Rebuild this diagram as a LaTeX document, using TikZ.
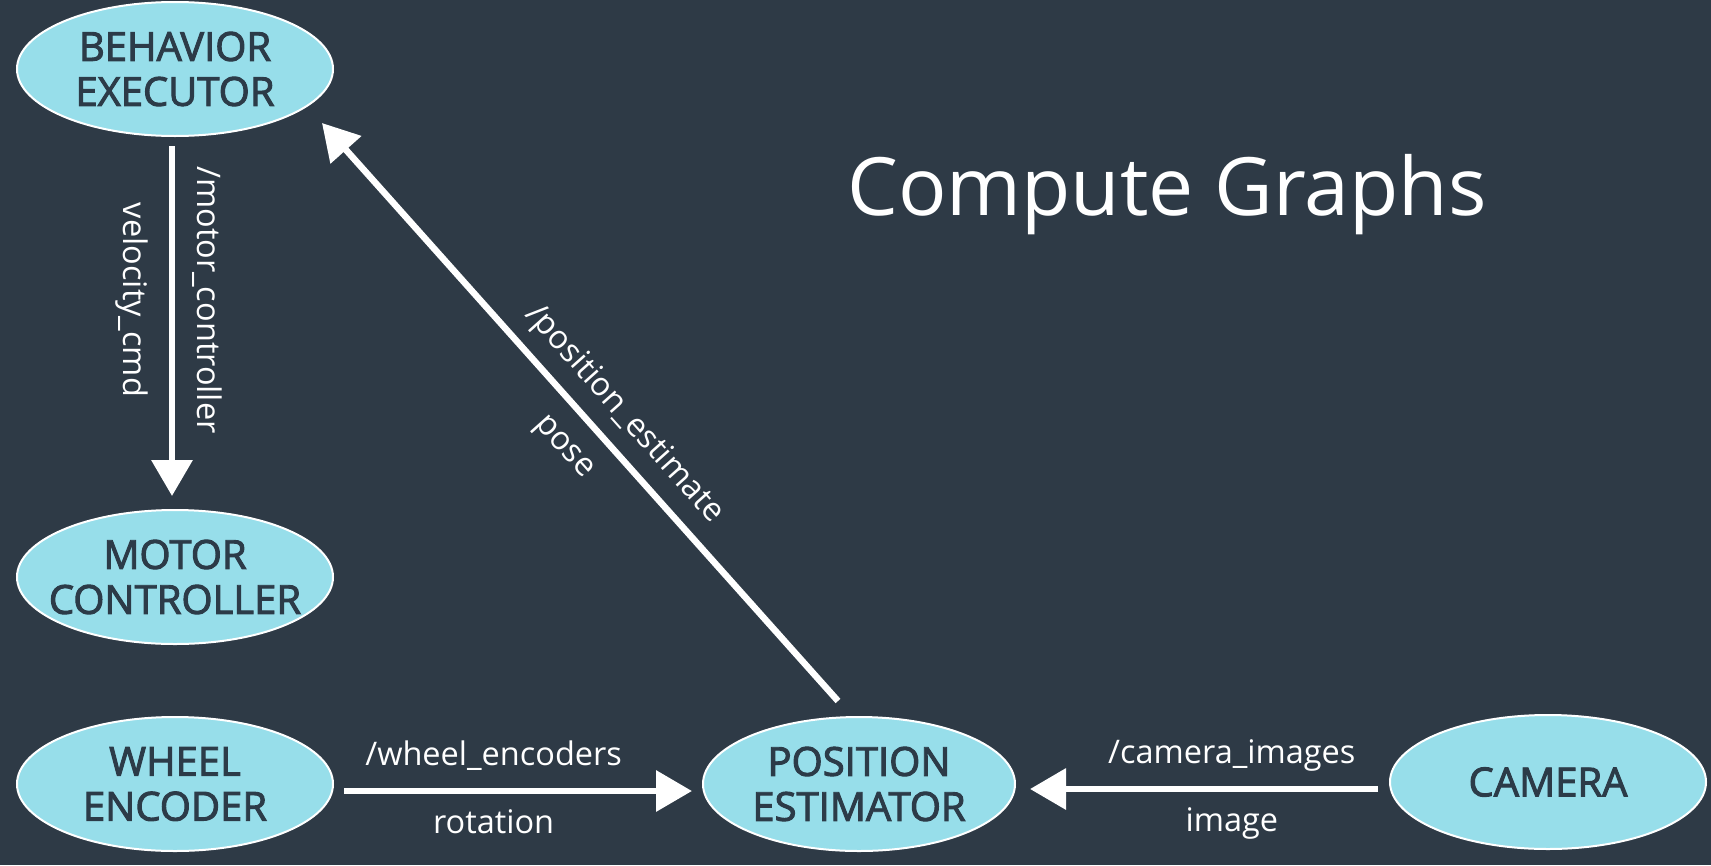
\documentclass[tikz,border=0pt]{standalone}
\usepackage{fontspec}
\setmainfont{Open Sans}
\newfontfamily\nodefont[FakeBold=2.4]{Open Sans}
\usetikzlibrary{shapes.geometric,arrows.meta,calc}
\definecolor{bgc}{HTML}{2E3A46}
\definecolor{nodefill}{HTML}{97DEEA}
\definecolor{nodetext}{HTML}{2C3B48}
\begin{document}
\begin{tikzpicture}[x=1pt,y=-1pt,
  rosnode/.style={ellipse, draw=white, line width=2pt, fill=nodefill, minimum width=316pt, minimum height=134pt, inner xsep=-60pt, inner ysep=0pt, align=center, text=nodetext, font=\nodefont\fontsize{40}{45}\selectfont},
  topic/.style={draw=white, line width=6.5pt, -{Triangle[length=36pt,width=40pt]}},
  lbl/.style={text=white, font=\fontsize{32.5}{38}\selectfont, inner sep=0pt, text height=25pt, text depth=8pt},
]
\fill[bgc] (0,0) rectangle (1711,865);
\useasboundingbox (0,0) rectangle (1711,865);

\node[rosnode] (be) at (175,69) {BEHAVIOR\\EXECUTOR};
\node[rosnode] (mc) at (175,577) {MOTOR\\CONTROLLER};
\node[rosnode] (we) at (175,784) {WHEEL\\ENCODER};
\node[rosnode, minimum width=312pt] (pe) at (859,784) {POSITION\\ESTIMATOR};
\node[rosnode] (cam) at (1548,782) {CAMERA};
\node[text=white, font=\fontsize{80.5}{96}\selectfont, anchor=base, inner sep=0pt] (title) at (1167,215) {Compute Graphs};

\draw[topic] ($(be.south)+(-3,9)$) -- ($(mc.north)+(-3,-13)$)
  node[lbl, pos=0.44, sloped, above=14pt] {/motor\_controller}
  node[lbl, pos=0.44, sloped, below=20pt] {velocity\_cmd};

\draw[topic] ($(we.east)+(10,7)$) -- ($(pe.west)+(-10,7)$)
  node[lbl, pos=0.43, above=14pt] {/wheel\_encoders}
  node[lbl, pos=0.43, below=14pt] {rotation};

\draw[topic] ($(cam.west)+(-11,7)$) -- ($(pe.east)+(14,5)$)
  node[lbl, pos=0.42, above=14pt] {/camera\_images}
  node[lbl, pos=0.42, below=14pt] {image};

\draw[topic] ($(pe.north)+(-21,-15)$) -- ($(be.center)+(147,54)$)
  node[lbl, pos=0.46, sloped, above=12pt] {/position\_estimate}
  node[lbl, pos=0.48, sloped, below=14pt] {pose};
\end{tikzpicture}
\end{document}
